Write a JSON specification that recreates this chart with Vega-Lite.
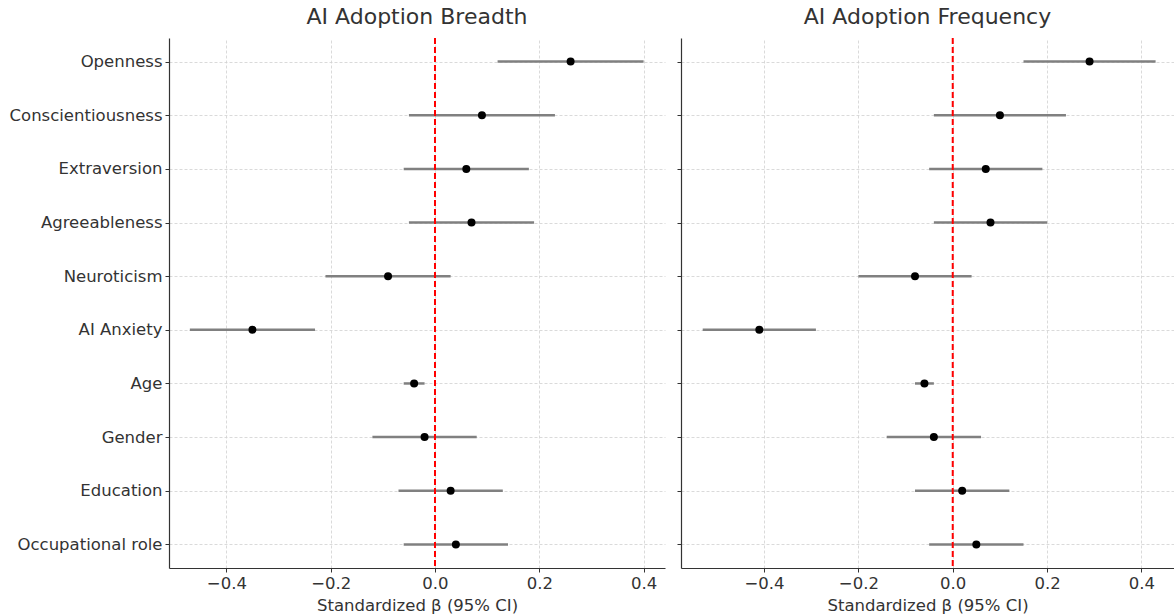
{
  "$schema": "https://vega.github.io/schema/vega-lite/v6.json",
  "background": "white",
  "padding": {"left": 0, "top": 6, "right": 0, "bottom": 0},
  "config": {
    "font": "DejaVu Sans",
    "view": {"stroke": null},
    "title": {"font": "DejaVu Sans", "fontSize": 22, "fontWeight": "normal", "color": "#333333", "offset": 8},
    "axis": {
      "labelFont": "DejaVu Sans", "labelFontSize": 16.5, "labelColor": "#333333",
      "titleFont": "DejaVu Sans", "titleFontSize": 16.5, "titleFontWeight": "normal", "titleColor": "#333333",
      "domainColor": "#333333", "domainWidth": 1.2, "tickColor": "#333333", "tickSize": 4, "labelPadding": 3,
      "grid": true, "gridColor": "#d0d0d0", "gridDash": [3, 2], "gridWidth": 0.8
    }
  },
  "datasets": {
    "coef": [
      {"model": "Breadth", "predictor": "Openness", "beta": 0.26, "lo": 0.12, "hi": 0.40},
      {"model": "Breadth", "predictor": "Conscientiousness", "beta": 0.09, "lo": -0.05, "hi": 0.23},
      {"model": "Breadth", "predictor": "Extraversion", "beta": 0.06, "lo": -0.06, "hi": 0.18},
      {"model": "Breadth", "predictor": "Agreeableness", "beta": 0.07, "lo": -0.05, "hi": 0.19},
      {"model": "Breadth", "predictor": "Neuroticism", "beta": -0.09, "lo": -0.21, "hi": 0.03},
      {"model": "Breadth", "predictor": "AI Anxiety", "beta": -0.35, "lo": -0.47, "hi": -0.23},
      {"model": "Breadth", "predictor": "Age", "beta": -0.04, "lo": -0.06, "hi": -0.02},
      {"model": "Breadth", "predictor": "Gender", "beta": -0.02, "lo": -0.12, "hi": 0.08},
      {"model": "Breadth", "predictor": "Education", "beta": 0.03, "lo": -0.07, "hi": 0.13},
      {"model": "Breadth", "predictor": "Occupational role", "beta": 0.04, "lo": -0.06, "hi": 0.14},
      {"model": "Frequency", "predictor": "Openness", "beta": 0.29, "lo": 0.15, "hi": 0.43},
      {"model": "Frequency", "predictor": "Conscientiousness", "beta": 0.10, "lo": -0.04, "hi": 0.24},
      {"model": "Frequency", "predictor": "Extraversion", "beta": 0.07, "lo": -0.05, "hi": 0.19},
      {"model": "Frequency", "predictor": "Agreeableness", "beta": 0.08, "lo": -0.04, "hi": 0.20},
      {"model": "Frequency", "predictor": "Neuroticism", "beta": -0.08, "lo": -0.20, "hi": 0.04},
      {"model": "Frequency", "predictor": "AI Anxiety", "beta": -0.41, "lo": -0.53, "hi": -0.29},
      {"model": "Frequency", "predictor": "Age", "beta": -0.06, "lo": -0.08, "hi": -0.04},
      {"model": "Frequency", "predictor": "Gender", "beta": -0.04, "lo": -0.14, "hi": 0.06},
      {"model": "Frequency", "predictor": "Education", "beta": 0.02, "lo": -0.08, "hi": 0.12},
      {"model": "Frequency", "predictor": "Occupational role", "beta": 0.05, "lo": -0.05, "hi": 0.15}
    ]
  },
  "spacing": 11,
  "hconcat": [
    {
      "title": "AI Adoption Breadth",
      "width": 496,
      "height": 530,
      "data": {"name": "coef"},
      "transform": [{"filter": "datum.model === 'Breadth'"}],
      "encoding": {
        "y": {
          "field": "predictor", "type": "nominal",
          "sort": ["Openness", "Conscientiousness", "Extraversion", "Agreeableness", "Neuroticism", "AI Anxiety", "Age", "Gender", "Education", "Occupational role"],
          "scale": {"type": "point", "padding": 0.44},
          "axis": {"title": null, "minExtent": 169, "maxExtent": 169}
        }
      },
      "layer": [
        {
          "mark": {"type": "rule", "color": "#808080", "strokeWidth": 2.5},
          "encoding": {
            "x": {"field": "lo", "type": "quantitative",
              "scale": {"domain": [-0.51, 0.441], "nice": false, "zero": false},
              "axis": {"title": "Standardized β (95% CI)", "values": [-0.4, -0.2, 0, 0.2, 0.4], "labelExpr": "replace(format(datum.value, '.1f'), '-', '−')", "titlePadding": 6}},
            "x2": {"field": "hi"}
          }
        },
        {
          "data": {"values": [{"z": 0}]},
          "mark": {"type": "rule", "color": "#ff0000", "strokeWidth": 2, "strokeDash": [6, 3]},
          "encoding": {"x": {"field": "z", "type": "quantitative"}, "y": null}
        },
        {
          "mark": {"type": "circle", "color": "black", "opacity": 1, "size": 64},
          "encoding": {"x": {"field": "beta", "type": "quantitative"}}
        }
      ]
    },
    {
      "title": "AI Adoption Frequency",
      "width": 493,
      "height": 530,
      "data": {"name": "coef"},
      "transform": [{"filter": "datum.model === 'Frequency'"}],
      "encoding": {
        "y": {
          "field": "predictor", "type": "nominal",
          "sort": ["Openness", "Conscientiousness", "Extraversion", "Agreeableness", "Neuroticism", "AI Anxiety", "Age", "Gender", "Education", "Occupational role"],
          "scale": {"type": "point", "padding": 0.44},
          "axis": {"title": null, "labels": false, "minExtent": 5, "maxExtent": 5}
        }
      },
      "layer": [
        {
          "mark": {"type": "rule", "color": "#808080", "strokeWidth": 2.5},
          "encoding": {
            "x": {"field": "lo", "type": "quantitative",
              "scale": {"domain": [-0.576, 0.469], "nice": false, "zero": false},
              "axis": {"title": "Standardized β (95% CI)", "values": [-0.4, -0.2, 0, 0.2, 0.4], "labelExpr": "replace(format(datum.value, '.1f'), '-', '−')", "titlePadding": 6}},
            "x2": {"field": "hi"}
          }
        },
        {
          "data": {"values": [{"z": 0}]},
          "mark": {"type": "rule", "color": "#ff0000", "strokeWidth": 2, "strokeDash": [6, 3]},
          "encoding": {"x": {"field": "z", "type": "quantitative"}, "y": null}
        },
        {
          "mark": {"type": "circle", "color": "black", "opacity": 1, "size": 64},
          "encoding": {"x": {"field": "beta", "type": "quantitative"}}
        }
      ]
    }
  ]
}
